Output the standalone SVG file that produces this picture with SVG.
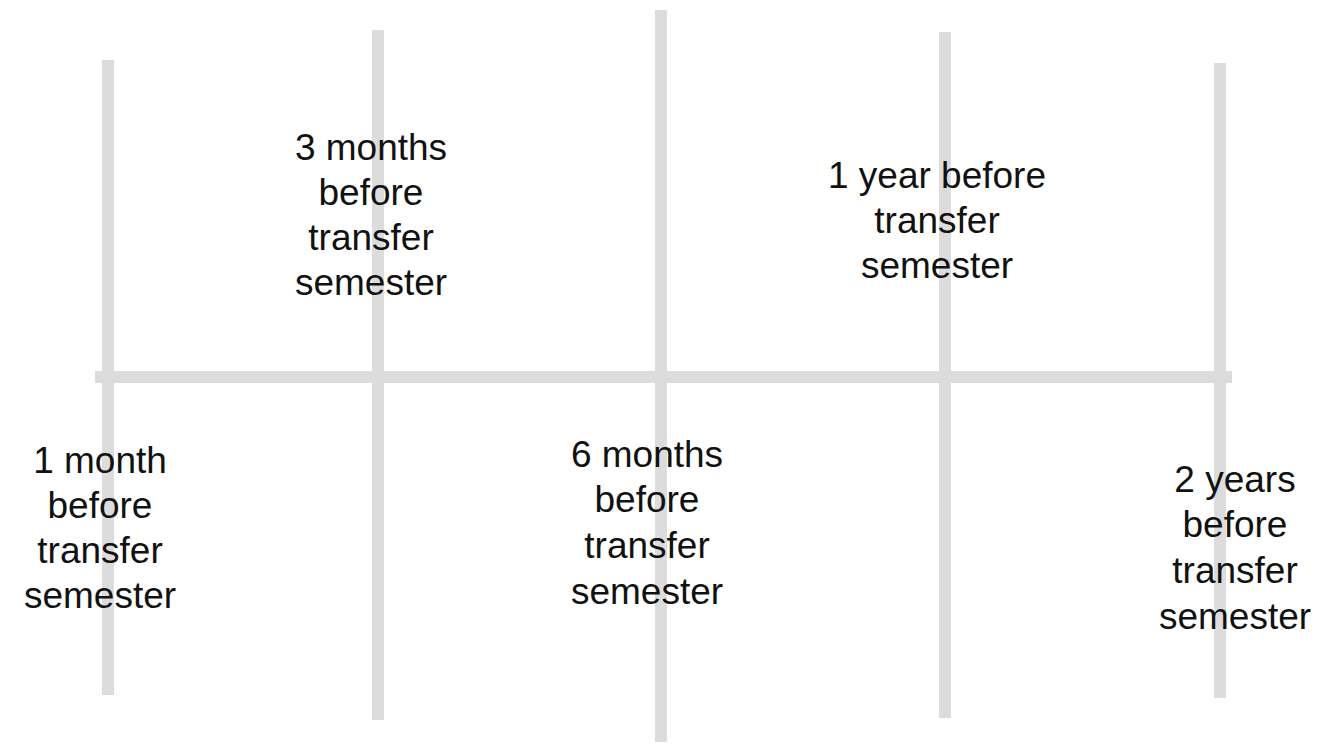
<svg xmlns="http://www.w3.org/2000/svg" width="1320" height="745" viewBox="0 0 1320 745">
<style>
.ln{stroke:#dcdcdc;stroke-width:12;stroke-linecap:butt;fill:none}
.t{font-family:"Liberation Sans",Arial,sans-serif;font-size:37px;fill:#111;text-anchor:middle}
</style>
<rect width="1320" height="745" fill="#ffffff"/>
<g id="connectors">
<line class="ln" x1="95" y1="377" x2="1232" y2="377"/>
<line class="ln" x1="108" y1="60" x2="108" y2="695"/>
<line class="ln" x1="378" y1="30" x2="378" y2="720"/>
<line class="ln" x1="661" y1="10" x2="661" y2="742"/>
<line class="ln" x1="945" y1="32" x2="945" y2="718"/>
<line class="ln" x1="1220" y1="63" x2="1220" y2="698"/>
</g>
<g id="n-1month">
<text class="t" x="100" y="473">1 month</text>
<text class="t" x="100" y="518">before</text>
<text class="t" x="100" y="563">transfer</text>
<text class="t" x="100" y="608">semester</text>
</g>
<g id="n-3months">
<text class="t" x="371" y="160">3 months</text>
<text class="t" x="371" y="205">before</text>
<text class="t" x="371" y="250">transfer</text>
<text class="t" x="371" y="295">semester</text>
</g>
<g id="n-6months">
<text class="t" x="647" y="467">6 months</text>
<text class="t" x="647" y="512">before</text>
<text class="t" x="647" y="558">transfer</text>
<text class="t" x="647" y="604">semester</text>
</g>
<g id="n-1year">
<text class="t" x="937" y="188">1 year before</text>
<text class="t" x="937" y="233">transfer</text>
<text class="t" x="937" y="278">semester</text>
</g>
<g id="n-2years">
<text class="t" x="1235" y="492">2 years</text>
<text class="t" x="1235" y="537">before</text>
<text class="t" x="1235" y="583">transfer</text>
<text class="t" x="1235" y="629">semester</text>
</g>
</svg>
